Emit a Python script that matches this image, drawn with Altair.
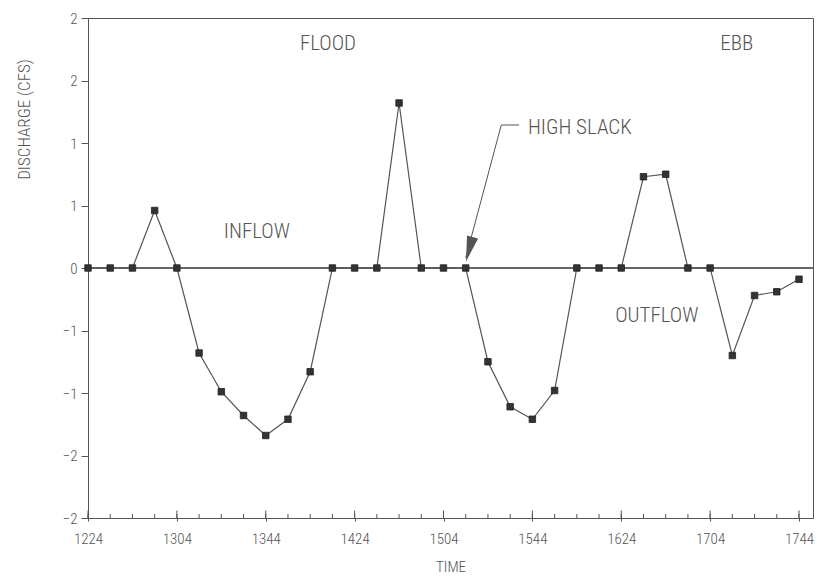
import altair as alt
import pandas as pd

times = ["1224", "1234", "1244", "1254", "1304", "1314", "1324", "1334", "1344",
         "1354", "1404", "1414", "1424", "1434", "1444", "1454", "1504", "1514",
         "1524", "1534", "1544", "1554", "1604", "1614", "1624", "1634", "1644",
         "1654", "1704", "1714", "1724", "1734", "1744"]
discharge = [0, 0, 0, 0.46, 0, -0.68, -0.99, -1.18, -1.34,
             -1.21, -0.83, 0, 0, 0, 1.32, 0, 0, 0,
             -0.75, -1.11, -1.21, -0.98, 0, 0, 0, 0.73, 0.75,
             0, 0, -0.70, -0.22, -0.19, -0.09]
axis_times = ["1224", "1304", "1344", "1424", "1504", "1544", "1624", "1704", "1744"]
y_ticks = [-2, -1.5, -1, -0.5, 0, 0.5, 1, 1.5, 2]

note_text = ["FLOOD", "EBB", "INFLOW", "OUTFLOW"]
note_time = ["1412", "1716", "1340", "1640"]
note_val = [1.79, 1.79, 0.29, -0.38]

slack_text = ["HIGH SLACK"]
slack_time = ["1542"]
slack_val = [1.12]

leader_time = ["1538", "1530", "1514"]
leader_val = [1.144, 1.144, 0.08]
arrow_time = ["1515"]
arrow_val = [0.15]


def to_min(s):
    return int(s[:2]) * 60 + int(s[2:])


df = pd.DataFrame({"t": [to_min(s) for s in times], "q": discharge})
major = pd.DataFrame({"t": [to_min(s) for s in axis_times]})
notes = pd.DataFrame({"t": [to_min(s) for s in note_time], "q": note_val, "text": note_text})
slack = pd.DataFrame({"t": [to_min(s) for s in slack_time], "q": slack_val, "text": slack_text})
leader = pd.DataFrame({"t": [to_min(s) for s in leader_time], "q": leader_val,
                       "o": list(range(len(leader_time)))})
arrow = pd.DataFrame({"t": [to_min(s) + 0.6 for s in arrow_time], "q": arrow_val})

FONT = "Roboto Condensed, Liberation Sans, sans-serif"
GRAY = "#555555"
TXT = "#555555"

x_scale = alt.Scale(domain=[to_min("1224"), to_min("1224") + 326.3], nice=False, zero=False)
y_scale = alt.Scale(domain=[-2, 2], nice=False)

x_axis = alt.Axis(
    values=[to_min(s) for s in axis_times],
    labelExpr="floor(datum.value/60) + (datum.value % 60 < 10 ? '0' : '') + (datum.value % 60)",
    title="TIME", tickSize=3, labelPadding=10, titlePadding=13, labelFlush=False,
    labelFontSize=15, titleFontSize=15, grid=False,
)
y_axis = alt.Axis(
    values=y_ticks, format=".0f", title="DISCHARGE (CFS)", tickSize=7,
    labelPadding=4, labelFontSize=15, titleFontSize=17, grid=False,
    titleX=-64, titleY=101, titleBaseline="middle",
)

base = alt.Chart(df)

zero = base.mark_rule(color="#666666", strokeWidth=1).encode(y=alt.datum(0, scale=y_scale))

line = base.mark_line(color="#555555", strokeWidth=1.2).encode(
    x=alt.X("t:Q", scale=x_scale, axis=x_axis),
    y=alt.Y("q:Q", scale=y_scale, axis=y_axis),
)
pts = base.mark_square(size=42, color="#333333", opacity=1, stroke="#222222", strokeWidth=0.8).encode(
    x="t:Q", y="q:Q"
)

minor_ticks = base.mark_rule(color=GRAY, strokeWidth=1).encode(
    x="t:Q", y=alt.datum(-2), y2=alt.datum(-1.968)
)
major_ticks = alt.Chart(major).mark_rule(color=GRAY, strokeWidth=1).encode(
    x="t:Q", y=alt.datum(-2), y2=alt.datum(-1.94)
)

texts = alt.Chart(notes).mark_text(font=FONT, fontSize=21, fontWeight=300, color=TXT,
                                   baseline="middle", align="center").encode(
    x="t:Q", y="q:Q", text="text:N")
slack_txt = alt.Chart(slack).mark_text(font=FONT, fontSize=21, fontWeight=300, color=TXT,
                                       baseline="middle", align="left").encode(
    x="t:Q", y="q:Q", text="text:N")

lead = alt.Chart(leader).mark_line(color=GRAY, strokeWidth=1).encode(
    x="t:Q", y="q:Q", order="o:Q"
)
head = alt.Chart(arrow).mark_point(
    shape="M -0.45 -1 L 0.45 -1 L 0 1 Z", size=650, angle=15, filled=True,
    color="#555555", opacity=1
).encode(x="t:Q", y="q:Q")

chart = alt.layer(zero, line, minor_ticks, major_ticks, lead, head, pts, texts, slack_txt).properties(
    width=725, height=500,
    autosize=alt.AutoSizeParams(type="none"),
    padding={"left": 80, "top": 10, "right": 1, "bottom": 58},
).configure_view(
    stroke=GRAY, strokeWidth=1
).configure_axis(
    domainColor=GRAY, tickColor=GRAY, labelColor=TXT, titleColor=TXT,
    labelFont=FONT, titleFont=FONT, titleFontWeight=300, labelFontWeight=300,
)

chart.save("out.html", embed_options={"renderer": "svg", "actions": False})
